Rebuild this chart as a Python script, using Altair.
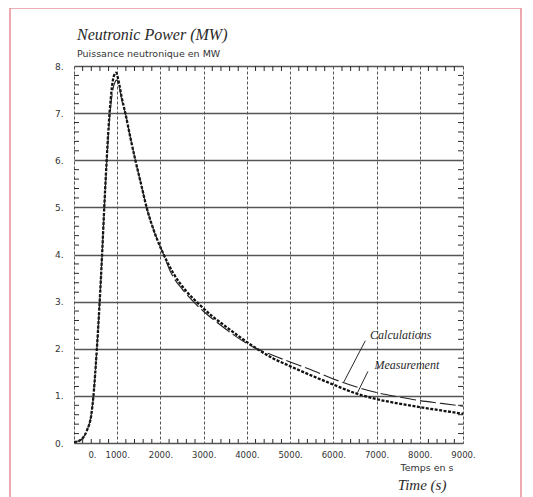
import altair as alt
import pandas as pd

# ---- data ----
meas_t = [0, 100, 200, 300, 400, 450, 500, 550, 600, 650, 700, 750, 800, 850, 900, 950, 975,
          1000, 1050, 1100, 1200, 1300, 1420, 1550, 1680, 1850, 2050, 2300, 2600, 2900, 3200,
          3500, 3850, 4180, 4600, 5000, 5550, 6000, 6500, 7000, 7500, 8000, 8500, 9000]
meas_v = [0.02, 0.04, 0.1, 0.27, 0.6, 1.0, 1.6, 2.3, 3.1, 4.0, 5.0, 5.9, 6.7, 7.3, 7.7, 7.84, 7.86,
          7.8, 7.6, 7.35, 6.95, 6.5, 6.0, 5.5, 5.0, 4.5, 4.05, 3.6, 3.22, 2.94, 2.69,
          2.48, 2.24, 2.03, 1.8, 1.63, 1.41, 1.24, 1.06, 0.93, 0.84, 0.76, 0.69, 0.62]

calc_t = [0, 100, 200, 300, 400, 450, 500, 550, 600, 650, 700, 750, 800, 850, 900, 950, 985,
          1020, 1060, 1100, 1200, 1300, 1420, 1550, 1680, 1850, 2050, 2250, 2500, 2740, 3000,
          3350, 3700, 4140, 4600, 5000, 5550, 6000, 6500, 7000, 7500, 8000, 8500, 9000]
calc_v = [0.02, 0.04, 0.1, 0.27, 0.6, 1.0, 1.6, 2.3, 3.1, 4.0, 4.95, 5.85, 6.6, 7.15, 7.5, 7.66, 7.7,
          7.66, 7.5, 7.3, 6.95, 6.5, 6.0, 5.5, 5.0, 4.5, 4.05, 3.6, 3.27, 3.02, 2.79,
          2.53, 2.29, 2.04, 1.86, 1.72, 1.53, 1.36, 1.2, 1.07, 0.98, 0.9, 0.84, 0.78]

x_ticks = [0, 1000, 2000, 3000, 4000, 5000, 6000, 7000, 8000, 9000]
y_ticks = [0, 1, 2, 3, 4, 5, 6, 7, 8]
x_minor = [200, 400, 600, 800, 1200, 1400, 1600, 1800, 2200, 2400, 2600, 2800,
           3200, 3400, 3600, 3800, 4200, 4400, 4600, 4800, 5200, 5400, 5600, 5800,
           6200, 6400, 6600, 6800, 7200, 7400, 7600, 7800, 8200, 8400, 8600, 8800]
y_minor = [0.2, 0.4, 0.6, 0.8, 1.2, 1.4, 1.6, 1.8, 2.2, 2.4, 2.6, 2.8, 3.2, 3.4, 3.6, 3.8,
           4.2, 4.4, 4.6, 4.8, 5.2, 5.4, 5.6, 5.8, 6.2, 6.4, 6.6, 6.8, 7.2, 7.4, 7.6, 7.8]

ann_text = ["Calculations", "Measurement"]
ann_t = [6850, 6950]
ann_v = [2.21, 1.57]
lead_t1 = [6740, 6800]
lead_v1 = [2.17, 1.52]
lead_t2 = [6240, 6560]
lead_v2 = [1.29, 1.07]

W, H = 389, 377
INK = "#2a2a2a"
GRID = "#555555"
HAND = "Liberation Serif"
PLOT = "DejaVu Sans"

meas_df = pd.DataFrame({"t": meas_t, "v": meas_v})
calc_df = pd.DataFrame({"t": calc_t, "v": calc_v})
xm_df = pd.DataFrame({"t": x_minor})
ym_df = pd.DataFrame({"v": y_minor})
ann_df = pd.DataFrame({"label": ann_text, "t": ann_t, "v": ann_v})
lead_df = pd.DataFrame({"t": lead_t1, "v": lead_v1, "t2": lead_t2, "v2": lead_v2})
one = pd.DataFrame({"k": [0]})

xs = alt.Scale(domain=[0, 9000], nice=False, zero=False)
ys = alt.Scale(domain=[0, 8], nice=False, zero=False)

x_axis = alt.Axis(
    values=x_ticks, labelExpr="datum.value + '.'", grid=True, gridDash=[3, 2],
    gridColor=GRID, gridWidth=1, ticks=False, domain=False, labelFont=PLOT,
    labelFontSize=8.5, labelColor="#333", labelPadding=7, labelFlush=False,
    labelOverlap=False, title=None,
    labelOffset={"condition": {"test": "datum.value === 0", "value": 18}, "value": 0},
)
y_axis = alt.Axis(
    values=y_ticks, labelExpr="datum.value + '.'", grid=True, gridColor=GRID,
    gridWidth=1.3, ticks=False, domain=False, labelFont=PLOT, labelFontSize=9,
    labelColor="#333", labelPadding=11, labelFlush=False, labelOverlap=False, title=None,
)

X = alt.X("t:Q", scale=xs, axis=x_axis)
Y = alt.Y("v:Q", scale=ys, axis=y_axis)

meas = alt.Chart(meas_df).mark_line(
    color="#111", strokeWidth=2.3, strokeDash=[3, 1.5], interpolate="monotone"
).encode(x=X, y=Y)

calc = alt.Chart(calc_df).mark_line(
    color="#222", strokeWidth=1.1, strokeDash=[16, 4], interpolate="monotone"
).encode(x=X, y=Y)

tick_style = dict(color=INK, strokeWidth=1)
top_ticks = alt.Chart(xm_df).mark_rule(**tick_style).encode(
    x=X, y=alt.value(0), y2=alt.value(5))
bot_ticks = alt.Chart(xm_df).mark_rule(**tick_style).encode(
    x=X, y=alt.value(H), y2=alt.value(H - 4))
left_ticks = alt.Chart(ym_df).mark_rule(**tick_style).encode(
    y=Y, x=alt.value(0), x2=alt.value(5))
right_ticks = alt.Chart(ym_df).mark_rule(**tick_style).encode(
    y=Y, x=alt.value(W), x2=alt.value(W - 5))

leaders = alt.Chart(lead_df).mark_rule(color=INK, strokeWidth=1).encode(
    x=X, y=Y, x2="t2:Q", y2="v2:Q")
ann = alt.Chart(ann_df).mark_text(
    align="left", baseline="alphabetic", font=HAND, fontStyle="italic", fontSize=12, color=INK
).encode(x=X, y=Y, text="label:N")

def label(txt, x, y, **kw):
    return alt.Chart(one).mark_text(**kw).encode(
        x=alt.value(x), y=alt.value(y), text=alt.value(txt))

title = label("Neutronic Power (MW)", 3, -31, align="left", baseline="middle", font=HAND,
              fontStyle="italic", fontSize=16, color=INK)
sub = label("Puissance neutronique en MW", 3, -12, align="left", baseline="middle",
            font=PLOT, fontSize=9.5, color="#333")
temps = label("Temps en s", 353, 402, align="center", baseline="middle", font=PLOT,
              fontSize=9.5, color="#333")
time_ = label("Time (s)", 348, 419, align="center", baseline="middle", font=HAND,
              fontStyle="italic", fontSize=15, color=INK)

frame = alt.Chart(one).mark_rect(fill=None, stroke="#e8949c", strokeWidth=1.6).encode(
    x=alt.value(-64), x2=alt.value(447), y=alt.value(-58), y2=alt.value(445))

chart = alt.layer(
    meas, calc, top_ticks, bot_ticks, left_ticks, right_ticks,
    leaders, ann, title, sub, temps, time_, frame
).properties(
    width=W, height=H,
    padding={"left": 66, "top": 58, "right": 62, "bottom": 54},
    autosize=alt.AutoSizeParams(type="none"),
).configure_view(stroke=INK, strokeWidth=1.3).configure(background="white")

chart.save("out.html", embed_options={"renderer": "svg", "actions": False})
